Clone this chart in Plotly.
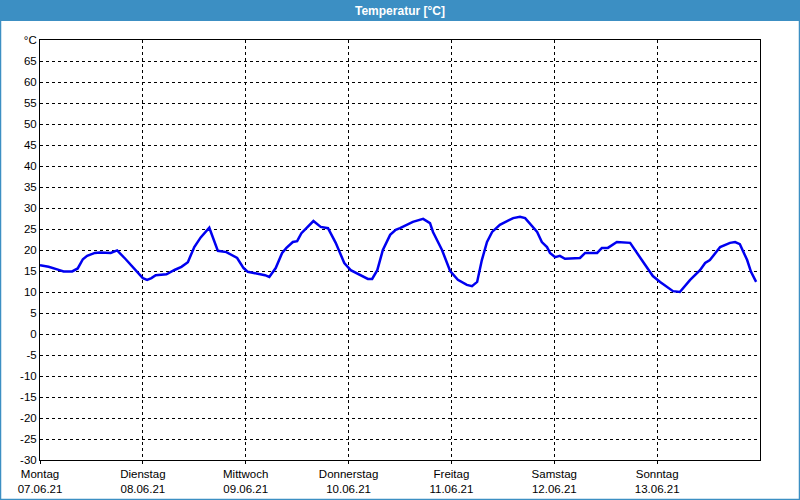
import plotly.graph_objects as go

# hours since Monday 07.06.21 00:00
hours = [0, 2, 4, 5.5, 7.5, 8.8, 10, 11, 12.8, 14, 16.5, 18, 20, 22,
         24, 25, 26, 27, 29.5, 31.5, 33, 34.5, 36, 37.5, 39.5, 41.5, 43.5, 46, 47.5,
         48.5, 51, 52.5, 53.5, 55, 56.5, 57.5, 59, 60, 61, 63.8, 65.5, 67.2, 69, 71,
         72.5, 75.3, 76.5, 77.5, 78.7, 80, 81.7, 83, 84, 87, 89.4, 91, 91.7, 93.8, 95,
         95.7, 97.5, 99.6, 100.8, 102, 103.1, 104.3, 105.5, 107.3, 110.4, 112, 113.2,
         114.3, 116, 117.1, 118.3, 119, 120.2, 121.3, 122.5, 126, 127.2, 130, 131.1,
         132.5, 134.6, 137.7, 138.8, 140, 140.9, 143, 144.7, 147.7, 149.3, 151.7, 154,
         155.2, 156.3, 158.7, 161, 162.2, 163.3, 165, 165.9, 167.1]
temps = [16.4, 16.0, 15.4, 14.9, 14.9, 15.6, 17.8, 18.6, 19.3, 19.4, 19.3, 19.9, 17.8, 15.5,
         13.3, 12.9, 13.3, 14.0, 14.2, 15.3, 16.0, 17.1, 20.7, 23.0, 25.3, 19.8, 19.5, 18.1, 15.7,
         14.8, 14.3, 14.0, 13.6, 15.7, 19.3, 20.5, 21.9, 22.1, 24.0, 26.9, 25.5, 25.2, 21.7, 16.9,
         15.2, 13.6, 13.1, 13.1, 15.2, 20.0, 23.6, 24.8, 25.2, 26.7, 27.4, 26.4, 24.3, 20.0, 16.9,
         15.0, 12.9, 11.7, 11.4, 12.4, 17.6, 21.9, 24.3, 26.0, 27.6, 27.9, 27.6,
         26.2, 24.3, 21.9, 20.7, 19.3, 18.3, 18.6, 17.9, 18.1, 19.3, 19.3, 20.5,
         20.5, 21.9, 21.7, 20.0, 18.1, 16.9, 13.8, 12.4, 10.2, 10.0, 12.9, 15.2,
         16.9, 17.6, 20.7, 21.7, 21.9, 21.4, 17.6, 14.8, 12.4]

day_hours = [0, 24, 48, 72, 96, 120, 144]
day_names = ["Montag", "Dienstag", "Mittwoch", "Donnerstag", "Freitag", "Samstag", "Sonntag"]
day_dates = ["07.06.21", "08.06.21", "09.06.21", "10.06.21", "11.06.21", "12.06.21", "13.06.21"]
y_ticks = list(range(-30, 75, 5))
y_labels = [str(v) for v in y_ticks[:-1]] + ["°C"]
title_text = "Temperatur [°C]"

W, H = 800, 500
L, R, T, B = 40, 40, 40, 40
pw, ph = W - L - R, H - T - B
BLUE = "#3c8fc3"

fig = go.Figure()
fig.add_trace(go.Scatter(x=hours, y=temps, mode="lines",
                         line=dict(color="#0000f0", width=2.5), showlegend=False))

font = dict(family="Liberation Sans", size=11.5, color="black")
fig.update_layout(
    width=W, height=H,
    margin=dict(l=L, r=R, t=T, b=B, autoexpand=False),
    paper_bgcolor="white", plot_bgcolor="white",
    font=font,
    xaxis=dict(range=[0, 168], tickvals=day_hours,
               ticktext=[f"{n}<br>{d}" for n, d in zip(day_names, day_dates)],
               showgrid=True, gridcolor="black", griddash="3px,3px", gridwidth=1,
               showline=True, linecolor="black", linewidth=1, mirror=True,
               ticks="outside", ticklen=3, tickcolor="black", automargin=False,
               zeroline=False, tickfont=font),
    yaxis=dict(range=[-30, 70], tickvals=y_ticks, ticktext=y_labels,
               showgrid=True, gridcolor="black", griddash="3px,3px", gridwidth=1,
               showline=True, linecolor="black", linewidth=1, mirror=True,
               ticks="", zeroline=False, tickfont=font, automargin=False),
)

# title bar and frame
fig.add_shape(type="rect", xref="paper", yref="paper", layer="above",
              x0=-L / pw, x1=1 + R / pw, y0=1 + (T - 21) / ph, y1=1 + T / ph,
              fillcolor=BLUE, line=dict(width=0))
fig.add_shape(type="rect", xref="paper", yref="paper", layer="above",
              x0=(-L + 0.5) / pw, x1=1 + (R - 0.5) / pw, y0=(-B + 0.5) / ph, y1=1 + (T - 0.5) / ph,
              line=dict(color=BLUE, width=1.5))
fig.add_annotation(xref="paper", yref="paper", x=0.5, y=1 + (T - 10.5) / ph,
                   text=f"<b>{title_text}</b>", showarrow=False,
                   font=dict(family="Liberation Sans", size=12, color="white"),
                   xanchor="center", yanchor="middle")

fig.write_html("out.html")
